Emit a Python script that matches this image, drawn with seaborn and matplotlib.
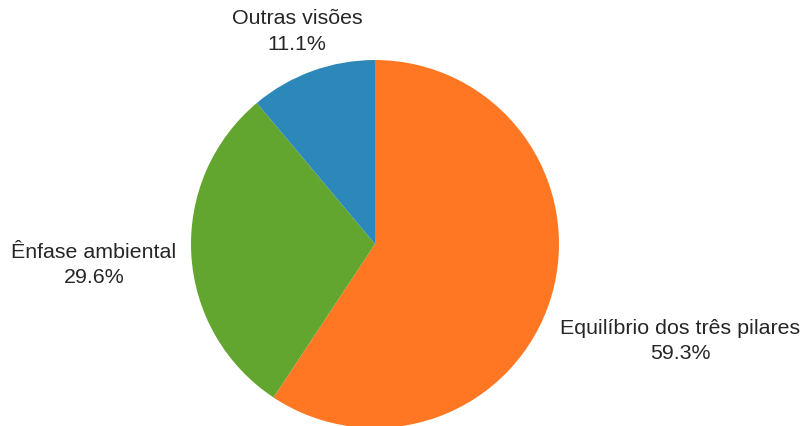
import matplotlib
matplotlib.use("Agg")
import matplotlib.pyplot as plt
import seaborn as sns

categories = ["Equilíbrio dos três pilares", "Ênfase ambiental", "Outras visões"]
values = [59.3, 29.6, 11.1]
colors = ["#FF7722", "#62A52F", "#2D88BA"]

# label positions in units of pie radius (layout)
label_pos = [(1.658, -0.522), (-1.527, -0.109), (-0.424, 1.160)]

sns.set_theme(style="white")
plt.rcParams['font.family'] = ['Liberation Sans', 'DejaVu Sans']

R = 184.0
fig = plt.figure(figsize=(8.06, 4.27), dpi=100)
ax = fig.add_axes([0, 0, 1, 1])
wedges, _ = ax.pie(values, colors=colors, startangle=90, counterclock=False,
                   radius=1.0, center=(0, 0), wedgeprops=dict(linewidth=0))
for cat, val, (x, y) in zip(categories, values, label_pos):
    ax.text(x, y, f"{cat}\n{val:.1f}%",
            ha="center", va="center", fontsize=15.4, color="#262626",
            linespacing=1.45)
ax.set_xlim(-375 / R, 431 / R)
ax.set_ylim(-182 / R, 245 / R)
ax.set_aspect("auto")
ax.axis("off")
fig.savefig("out.png", dpi=100)
